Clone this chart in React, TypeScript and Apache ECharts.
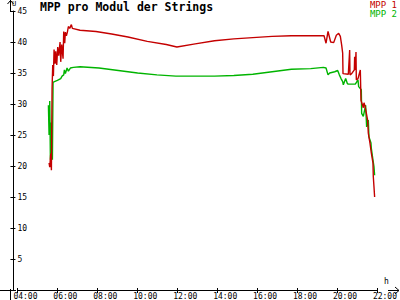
import React, { useEffect, useRef } from 'react';
import * as echarts from 'echarts';

const mpp1Times = ['05:35','05:37','05:40','05:42','05:44','05:46','05:48','05:50','05:53','05:55','05:58','06:01','06:04','06:08','06:10','06:13','06:17','06:19','06:22','06:24','06:27','06:30','06:33','06:37','06:42','06:45','07:08','07:56','08:43','09:32','10:30','11:27','11:59','12:54','13:52','14:50','15:47','16:45','17:43','19:21','19:27','19:33','19:41','19:50','19:58','20:05','20:10','20:14','20:17','20:18','20:34','20:38','20:39','20:44','20:52','20:53','20:55','20:57','20:58','21:03','21:10','21:12','21:19','21:21','21:24','21:32','21:34','21:39','21:43','21:48','21:49','21:51','21:53'];
const mpp1Values = [20.5,19.8,22.0,19.3,32.5,36.3,34.5,38.8,36.5,38.5,36.3,39.2,37.8,40.0,36.8,39.6,37.3,41.7,39.8,41.6,41.0,41.6,42.5,42.2,42.8,42.2,41.9,41.7,41.3,40.8,40.1,39.6,39.2,39.7,40.2,40.5,40.7,40.9,41.0,41.0,39.8,41.7,40.0,39.9,41.1,41.4,40.9,39.5,38.2,34.9,34.8,38.7,34.7,34.9,35.5,37.6,35.5,38.4,33.9,34.1,35.5,30.6,29.4,30.2,29.7,27.4,25.3,23.7,22.1,20.5,18.3,16.7,15.0];

const mpp2Times = ['05:33','05:35','05:37','05:39','05:41','05:43','05:45','05:47','05:51','06:00','06:10','06:14','06:19','06:21','06:24','06:29','06:33','06:39','06:48','07:08','08:05','09:03','10:01','10:59','11:56','12:54','13:52','14:50','15:47','16:45','17:43','18:41','19:19','19:27','19:33','19:38','19:53','20:02','20:07','20:12','20:17','20:19','20:26','20:31','20:34','20:55','21:03','21:05','21:13','21:14','21:19','21:26','21:29','21:34','21:36','21:42','21:43','21:48','21:51','21:53'];
const mpp2Values = [29.8,25.0,30.5,21.0,27.0,24.0,21.0,33.5,33.6,33.8,34.1,34.5,34.7,35.5,34.9,35.8,35.3,35.8,35.9,36.0,35.8,35.4,35.0,34.7,34.5,34.5,34.5,34.6,34.8,35.2,35.6,35.7,35.9,35.8,34.7,35.0,35.2,35.4,34.7,34.1,33.6,33.1,34.1,33.3,33.2,33.2,33.9,32.8,32.3,28.5,28.0,29.8,26.3,27.4,24.7,23.7,22.9,21.0,19.9,18.5];

const seriesNames = ['MPP 1', 'MPP 2'];
const titleText = 'MPP pro Modul der Strings';
const yUnit = 'U';
const xUnit = 'h';

const RED = '#c40000';
const GREEN = '#00b400';
const FONT = 'DejaVu Sans Mono';

const toHours = (t: string) => {
  const [h, m] = t.split(':').map(Number);
  return h + m / 60;
};
const pad2 = (n: number) => (n < 10 ? '0' + n : '' + n);

export default function App() {
  const ref = useRef<HTMLDivElement>(null);
  useEffect(() => {
    if (!ref.current) return;
    const chart = echarts.init(ref.current, null, { renderer: 'svg' });
    const d1 = mpp1Times.map((t, i) => [toHours(t), mpp1Values[i]]);
    const d2 = mpp2Times.map((t, i) => [toHours(t), mpp2Values[i]]);
    const axisBlack = { color: '#000', width: 1 };
    chart.setOption({
      animation: false,
      backgroundColor: '#fff',
      title: {
        text: titleText,
        left: 40,
        top: 1,
        padding: 0,
        textStyle: { fontFamily: FONT, fontSize: 11.5, fontWeight: 'bold', color: '#000' },
      },
      legend: {
        right: 3,
        top: 0,
        padding: 0,
        orient: 'vertical',
        itemGap: 0,
        itemWidth: 0,
        itemHeight: 8,
        icon: 'none',
        align: 'left',
        textStyle: { fontFamily: FONT, fontSize: 9, padding: 0 },
        data: [
          { name: seriesNames[0], textStyle: { color: RED } },
          { name: seriesNames[1], textStyle: { color: GREEN } },
        ],
      },
      grid: { left: 15, right: 11, top: 11, bottom: 10, containLabel: false },
      xAxis: [
        {
          type: 'value', min: 4, max: 22, interval: 2, position: 'bottom',
          axisLine: { onZero: false, lineStyle: axisBlack },
          axisTick: { length: 3, lineStyle: axisBlack },
          splitLine: { show: false },
          axisLabel: {
            margin: 2,
            align: 'center',
            formatter: (v: number) => `{p| }{t|${pad2(Math.round(v))}:00}`,
            rich: {
              p: { width: 16, fontSize: 8, fontFamily: FONT },
              t: { fontSize: 8, fontFamily: FONT, color: '#000' },
            },
          },
        },
        {
          type: 'value', min: 4, max: 22, interval: 2, position: 'bottom',
          axisLine: { show: false, onZero: false },
          axisTick: { inside: true, length: 2, lineStyle: axisBlack },
          axisLabel: { show: false },
          splitLine: { show: false },
        },
      ],
      yAxis: [
        {
          type: 'value', min: 0, max: 45, interval: 5, position: 'left', offset: 4,
          axisLine: { onZero: false, lineStyle: axisBlack },
          axisTick: { length: 3, lineStyle: axisBlack },
          splitLine: { show: false },
          axisLabel: {
            inside: true, margin: 4,
            fontFamily: FONT, fontSize: 8, color: '#000',
            formatter: (v: number) => (v === 0 ? '' : String(v)),
          },
        },
        {
          type: 'value', min: 0, max: 45, interval: 5, position: 'left', offset: 4,
          axisLine: { show: false, onZero: false },
          axisTick: { inside: true, length: 2, lineStyle: axisBlack },
          axisLabel: { show: false },
          splitLine: { show: false },
        },
      ],
      series: [
        {
          name: seriesNames[0], type: 'line', data: d1, showSymbol: false,
          lineStyle: { color: RED, width: 1.4 }, itemStyle: { color: RED }, z: 3,
        },
        {
          name: seriesNames[1], type: 'line', data: d2, showSymbol: false,
          lineStyle: { color: GREEN, width: 1.4 }, itemStyle: { color: GREEN }, z: 2,
        },
      ],
      graphic: [
        { type: 'line', shape: { x1: 0, y1: 290.5, x2: 16, y2: 290.5 }, style: { stroke: '#000', lineWidth: 1 } },
        { type: 'line', shape: { x1: 388, y1: 290.5, x2: 399, y2: 290.5 }, style: { stroke: '#000', lineWidth: 1 } },
        { type: 'polyline', shape: { points: [[395, 287], [399, 290.5], [395, 294]] }, style: { stroke: '#000', lineWidth: 1, fill: 'none' } },
        { type: 'line', shape: { x1: 10.5, y1: 0, x2: 10.5, y2: 12 }, style: { stroke: '#000', lineWidth: 1 } },
        { type: 'line', shape: { x1: 10.5, y1: 289, x2: 10.5, y2: 300 }, style: { stroke: '#000', lineWidth: 1 } },
        { type: 'polyline', shape: { points: [[7.5, 4], [10.5, 0.5], [13.5, 4]] }, style: { stroke: '#000', lineWidth: 1, fill: 'none' } },
        { type: 'text', left: 12, top: 0, style: { text: yUnit, font: `7px "${FONT}"`, fill: '#000' } },
        { type: 'text', left: 384, top: 277, style: { text: xUnit, font: `8px "${FONT}"`, fill: '#000' } },
      ],
    });
    return () => chart.dispose();
  }, []);
  return <div ref={ref} style={{ width: 400, height: 300, position: 'absolute', left: 0, top: 0 }} />;
}
